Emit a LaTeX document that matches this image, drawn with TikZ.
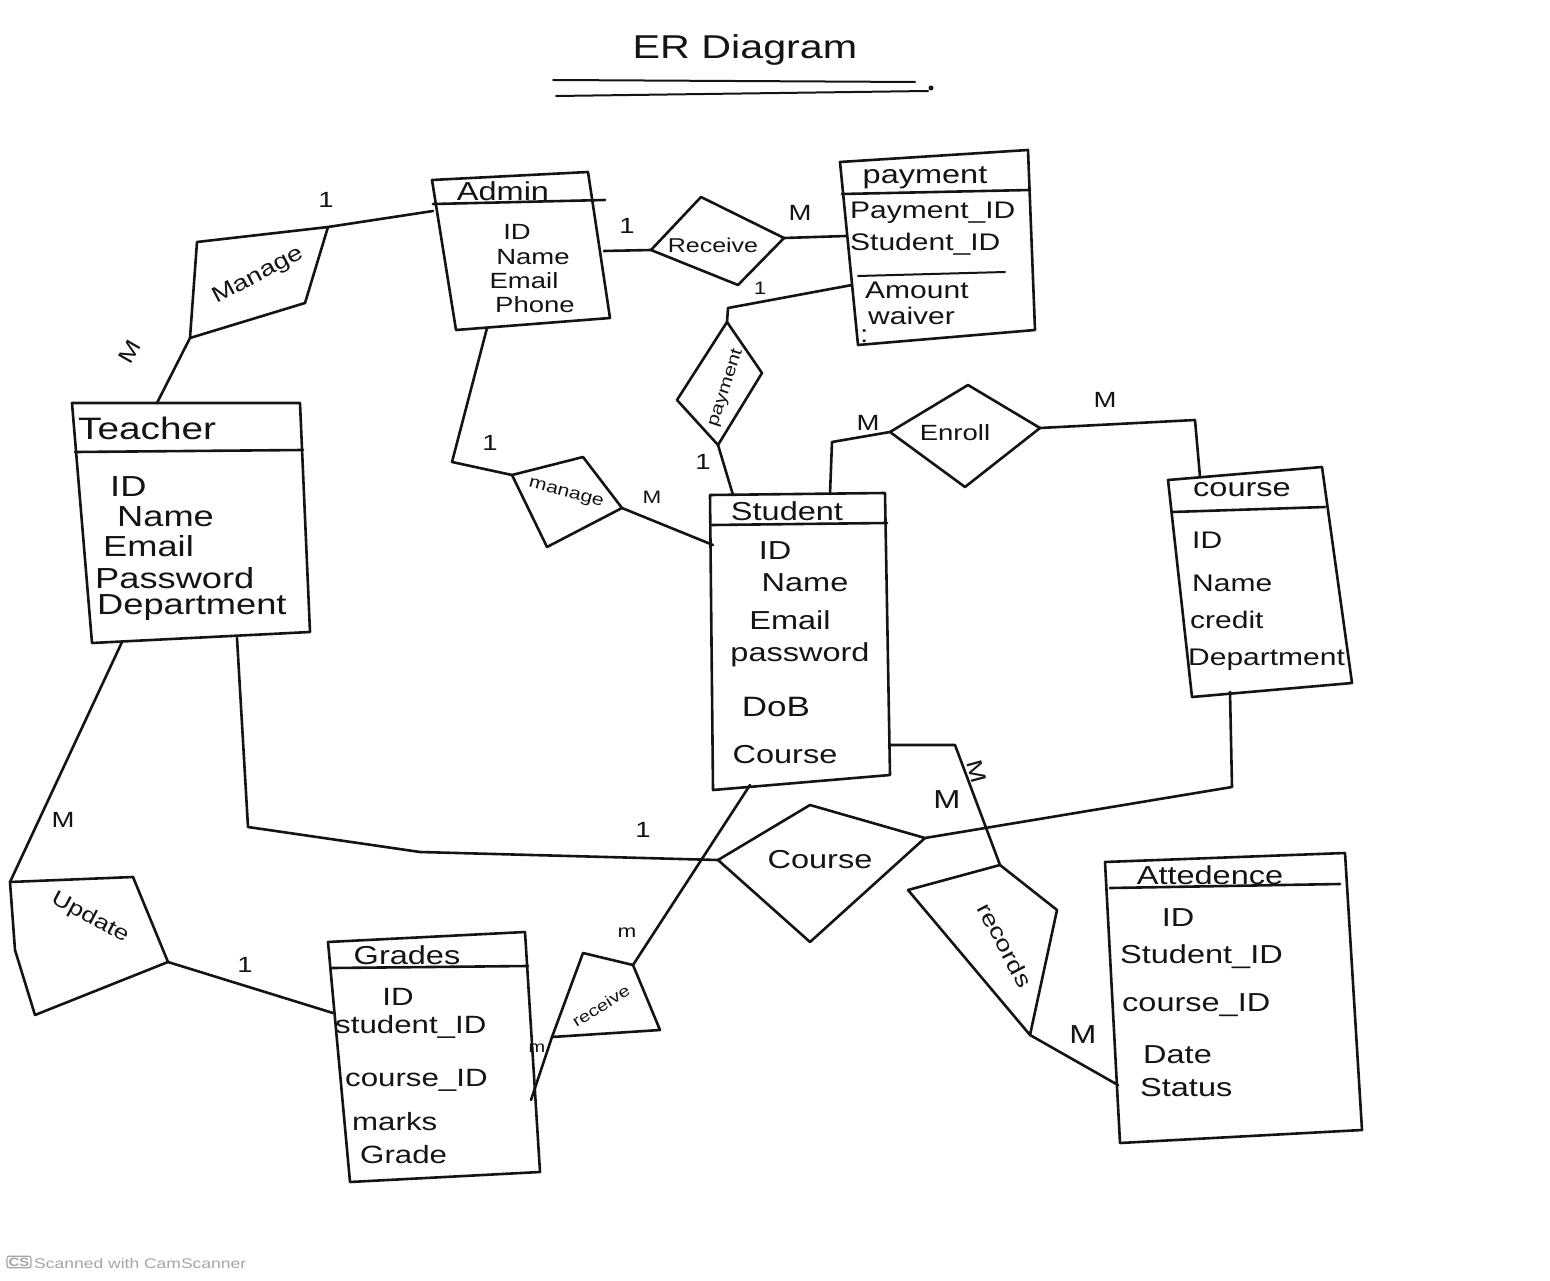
\documentclass[tikz,border=0pt]{standalone}
\usepackage{fontspec}
\setmainfont[FakeStretch=1.25]{Liberation Sans}
\definecolor{ink}{RGB}{20,20,20}
\definecolor{wm}{RGB}{165,165,165}
\tikzset{
  ln/.style={draw=ink, line width=2.6pt, line join=round, line cap=round},
  thin/.style={draw=ink, line width=2pt, line cap=round},
  attr/.style={text=ink, inner sep=0pt, font=\fontsize{24}{26}\selectfont},
  hdr/.style={text=ink, inner sep=0pt, font=\fontsize{26}{28}\selectfont},
  card/.style={text=ink, inner sep=0pt, font=\fontsize{22}{24}\selectfont},
  reltxt/.style={text=ink, inner sep=0pt, font=\fontsize{20}{22}\selectfont},
}
\begin{document}
\begin{tikzpicture}[x=1pt,y=-1pt]
\path[use as bounding box, fill=white] (0,0) rectangle (1550,1281);

% ---------- title ----------
\node[text=ink, inner sep=0pt, font=\fontsize{33}{36}\selectfont] (title) at (745,50) {ER Diagram};
\coordinate (ul1a) at (553,80); \coordinate (ul1b) at (915,82);
\coordinate (ul2a) at (556,96); \coordinate (ul2b) at (928,91);
\draw[thin] (ul1a) -- (ul1b);
\draw[thin] (ul2a) -- (ul2b);
\fill[ink] (931,88) circle (2.5);

% ---------- Admin ----------
\coordinate (adm1) at (432,180); \coordinate (adm2) at (588,172);
\coordinate (adm3) at (610,318); \coordinate (adm4) at (456,330);
\draw[ln] (adm1) -- (adm2) -- (adm3) -- (adm4) -- cycle;
\coordinate (admh1) at (433,204); \coordinate (admh2) at (605,200);
\draw[ln] (admh1) -- (admh2);
\node[hdr] (admT) at (503,191) {Admin};
\node[attr, font=\fontsize{22}{24}\selectfont] (admA1) at (517,232) {ID};
\node[attr, font=\fontsize{22}{24}\selectfont] (admA2) at (533,257) {Name};
\node[attr, font=\fontsize{22}{24}\selectfont] (admA3) at (524,281) {Email};
\node[attr, font=\fontsize{22}{24}\selectfont] (admA4) at (535,305) {Phone};
\coordinate (admL) at (433,211);
\coordinate (admR) at (604,251);
\coordinate (admB) at (487,328);

% ---------- payment ----------
\coordinate (pay1) at (840,162); \coordinate (pay2) at (1028,150);
\coordinate (pay3) at (1035,330); \coordinate (pay4) at (858,345);
\draw[ln] (pay1) -- (pay2) -- (pay3) -- (pay4) -- cycle;
\coordinate (payh1) at (842,194); \coordinate (payh2) at (1030,190);
\draw[ln] (payh1) -- (payh2);
\coordinate (pays1) at (858,276); \coordinate (pays2) at (1005,272);
\draw[thin] (pays1) -- (pays2);
\node[hdr] (payT) at (925,178) {payment};
\node[attr, anchor=west] (payA1) at (850,213) {Payment\_ID};
\node[attr, anchor=west] (payA2) at (850,244) {Student\_ID};
\node[attr, anchor=west] (payA3) at (865,290) {Amount};
\node[attr, anchor=west] (payA4) at (868,316) {waiver};
\node[attr, anchor=west] (payA5) at (860,336) {:};
\coordinate (payL1) at (846,236);
\coordinate (payL2) at (852,285);

% ---------- Receive (top) ----------
\coordinate (rcvL) at (651,250); \coordinate (rcvT) at (701,197);
\coordinate (rcvR) at (784,238); \coordinate (rcvB) at (738,285);
\draw[ln] (rcvL) -- (rcvT) -- (rcvR) -- (rcvB) -- cycle;
\node[reltxt] (rcvX) at (713,245) {Receive};
\draw[ln] (admR) -- (rcvL);
\draw[ln] (rcvR) -- (payL1);
\node[card] (c1) at (627,226) {1};
\node[card] (c2) at (800,213) {M};
\node[card, font=\fontsize{18}{20}\selectfont] (c3) at (760,288) {1};

% ---------- payment relationship ----------
\coordinate (pdT) at (727,322); \coordinate (pdR) at (762,373);
\coordinate (pdB) at (718,445); \coordinate (pdL) at (677,400);
\draw[ln] (pdT) -- (pdR) -- (pdB) -- (pdL) -- cycle;
\node[reltxt, rotate=72, font=\fontsize{17}{19}\selectfont] (pdX) at (726,388) {payment};
\coordinate (pdK) at (728,308);
\draw[ln] (pdT) -- (pdK) -- (payL2);

% ---------- Manage (top left) ----------
\coordinate (mng1) at (197,242); \coordinate (mng2) at (328,227);
\coordinate (mng3) at (305,303); \coordinate (mng4) at (190,338);
\draw[ln] (mng1) -- (mng2) -- (mng3) -- (mng4) -- cycle;
\node[reltxt, rotate=28, font=\fontsize{22}{24}\selectfont] (mngX) at (258,276) {Manage};
\draw[ln] (mng2) -- (admL);
\node[card] (c4) at (326,200) {1};

% ---------- Teacher ----------
\coordinate (tch1) at (72,403); \coordinate (tch2) at (300,403);
\coordinate (tch3) at (310,632); \coordinate (tch4) at (92,643);
\draw[ln] (tch1) -- (tch2) -- (tch3) -- (tch4) -- cycle;
\coordinate (tchh1) at (75,452); \coordinate (tchh2) at (303,450);
\draw[ln] (tchh1) -- (tchh2);
\node[hdr, font=\fontsize{31}{33}\selectfont, anchor=west] (tchT) at (78,428) {Teacher};
\node[attr, font=\fontsize{29}{31}\selectfont, anchor=west] (tchA1) at (110,487) {ID};
\node[attr, font=\fontsize{29}{31}\selectfont, anchor=west] (tchA2) at (117,517) {Name};
\node[attr, font=\fontsize{29}{31}\selectfont, anchor=west] (tchA3) at (103,546) {Email};
\node[attr, font=\fontsize{29}{31}\selectfont, anchor=west] (tchA4) at (95,578) {Password};
\node[attr, font=\fontsize{29}{31}\selectfont, anchor=west] (tchA5) at (97,608) {Department};
\coordinate (tchT0) at (157,403);
\coordinate (tchB1) at (122,642);
\coordinate (tchB2) at (237,638);
\draw[ln] (mng4) -- (tchT0);
\node[card, rotate=60] (c5) at (130,352) {M};

% ---------- manage (middle) ----------
\coordinate (mg1) at (512,475); \coordinate (mg2) at (583,457);
\coordinate (mg3) at (622,508); \coordinate (mg4) at (547,547);
\draw[ln] (mg1) -- (mg2) -- (mg3) -- (mg4) -- cycle;
\node[reltxt, rotate=-15, font=\fontsize{17}{19}\selectfont] (mgX) at (566,494) {manage};
\coordinate (mgK) at (452,462);
\draw[ln] (admB) -- (mgK) -- (mg1);
\node[card] (c6) at (490,443) {1};

% ---------- Student ----------
\coordinate (stu1) at (710,495); \coordinate (stu2) at (885,493);
\coordinate (stu3) at (890,775); \coordinate (stu4) at (713,790);
\draw[ln] (stu1) -- (stu2) -- (stu3) -- (stu4) -- cycle;
\coordinate (stuh1) at (712,525); \coordinate (stuh2) at (887,523);
\draw[ln] (stuh1) -- (stuh2);
\node[hdr] (stuT) at (787,511) {Student};
\node[attr, font=\fontsize{26}{28}\selectfont] (stuA1) at (775,551) {ID};
\node[attr, font=\fontsize{26}{28}\selectfont] (stuA2) at (805,583) {Name};
\node[attr, font=\fontsize{26}{28}\selectfont] (stuA3) at (790,620) {Email};
\node[attr, font=\fontsize{26}{28}\selectfont] (stuA4) at (800,655) {password};
\node[attr, font=\fontsize{28}{30}\selectfont] (stuA5) at (776,707) {DoB};
\node[attr, font=\fontsize{26}{28}\selectfont] (stuA6) at (785,755) {Course};
\coordinate (stuL) at (713,545);
\coordinate (stuT1) at (733,495);
\coordinate (stuT2) at (830,494);
\coordinate (stuB) at (750,785);
\coordinate (stuR) at (889,745);
\draw[ln] (mg3) -- (stuL);
\node[card, font=\fontsize{18}{20}\selectfont] (c7) at (652,497) {M};
\draw[ln] (pdB) -- (stuT1);
\node[card] (c8) at (703,462) {1};

% ---------- Enroll ----------
\coordinate (enrL) at (890,432); \coordinate (enrT) at (968,385);
\coordinate (enrR) at (1040,428); \coordinate (enrB) at (965,487);
\draw[ln] (enrL) -- (enrT) -- (enrR) -- (enrB) -- cycle;
\node[reltxt, font=\fontsize{22}{24}\selectfont] (enrX) at (955,433) {Enroll};
\coordinate (enrK1) at (832,442);
\coordinate (enrK2) at (1195,420);
\draw[ln] (stuT2) -- (enrK1) -- (enrL);
\node[card] (c9) at (868,423) {M};

% ---------- course ----------
\coordinate (crs1) at (1168,480); \coordinate (crs2) at (1322,467);
\coordinate (crs3) at (1352,683); \coordinate (crs4) at (1192,697);
\draw[ln] (crs1) -- (crs2) -- (crs3) -- (crs4) -- cycle;
\coordinate (crsh1) at (1172,512); \coordinate (crsh2) at (1325,507);
\draw[ln] (crsh1) -- (crsh2);
\node[hdr] (crsT) at (1242,490) {course};
\node[attr, anchor=west] (crsA1) at (1192,540) {ID};
\node[attr, anchor=west] (crsA2) at (1192,583) {Name};
\node[attr, anchor=west] (crsA3) at (1190,620) {credit};
\node[attr, anchor=west] (crsA4) at (1188,660) {Department};
\coordinate (crsT0) at (1200,477);
\coordinate (crsB) at (1230,692);
\draw[ln] (enrR) -- (enrK2) -- (crsT0);
\node[card] (c10) at (1105,400) {M};

% ---------- Course (relationship) ----------
\coordinate (cdL) at (718,860); \coordinate (cdT) at (810,805);
\coordinate (cdR) at (925,838); \coordinate (cdB) at (810,942);
\draw[ln] (cdL) -- (cdT) -- (cdR) -- (cdB) -- cycle;
\node[reltxt, font=\fontsize{26}{28}\selectfont] (cdX) at (820,860) {Course};
\coordinate (cdK1) at (248,827);
\coordinate (cdK2) at (420,852);
\coordinate (cdK3) at (1232,787);
\draw[ln] (tchB2) -- (cdK1) -- (cdK2) -- (cdL);
\node[card] (c11) at (643,830) {1};
\draw[ln] (cdR) -- (cdK3) -- (crsB);

% ---------- records ----------
\coordinate (rc1) at (908,890); \coordinate (rc2) at (1000,865);
\coordinate (rc3) at (1057,910); \coordinate (rc4) at (1030,1035);
\draw[ln] (rc1) -- (rc2) -- (rc3) -- (rc4) -- cycle;
\node[reltxt, rotate=-62, font=\fontsize{22}{24}\selectfont] (rcX) at (1005,945) {records};
\coordinate (rcK) at (955,745);
\draw[ln] (stuR) -- (rcK) -- (rc2);
\node[card, rotate=-75] (c12) at (977,772) {M};
\node[card, font=\fontsize{26}{28}\selectfont] (c13) at (947,800) {M};

% ---------- Attedence ----------
\coordinate (att1) at (1105,862); \coordinate (att2) at (1345,853);
\coordinate (att3) at (1362,1130); \coordinate (att4) at (1120,1143);
\draw[ln] (att1) -- (att2) -- (att3) -- (att4) -- cycle;
\coordinate (atth1) at (1110,888); \coordinate (atth2) at (1340,884);
\draw[ln] (atth1) -- (atth2);
\node[hdr] (attT) at (1210,875) {Attedence};
\node[attr, font=\fontsize{26}{28}\selectfont] (attA1) at (1178,918) {ID};
\node[attr, font=\fontsize{26}{28}\selectfont, anchor=west] (attA2) at (1120,957) {Student\_ID};
\node[attr, font=\fontsize{26}{28}\selectfont, anchor=west] (attA3) at (1122,1005) {course\_ID};
\node[attr, font=\fontsize{26}{28}\selectfont, anchor=west] (attA4) at (1143,1055) {Date};
\node[attr, font=\fontsize{26}{28}\selectfont, anchor=west] (attA5) at (1140,1088) {Status};
\coordinate (attL) at (1118,1085);
\draw[ln] (rc4) -- (attL);
\node[card, font=\fontsize{26}{28}\selectfont] (c14) at (1083,1035) {M};

% ---------- Update ----------
\coordinate (up1) at (10,882); \coordinate (up2) at (133,877);
\coordinate (up3) at (168,962); \coordinate (up4) at (35,1015);
\coordinate (up5) at (15,950);
\draw[ln] (up1) -- (up2) -- (up3) -- (up4) -- (up5) -- cycle;
\node[reltxt, rotate=-28, font=\fontsize{21}{23}\selectfont] (upX) at (90,918) {Update};
\draw[ln] (tchB1) -- (up1);
\node[card] (c15) at (63,820) {M};

% ---------- Grades ----------
\coordinate (grd1) at (328,942); \coordinate (grd2) at (525,932);
\coordinate (grd3) at (540,1172); \coordinate (grd4) at (350,1182);
\draw[ln] (grd1) -- (grd2) -- (grd3) -- (grd4) -- cycle;
\coordinate (grdh1) at (332,968); \coordinate (grdh2) at (528,966);
\draw[ln] (grdh1) -- (grdh2);
\node[hdr] (grdT) at (407,955) {Grades};
\node[attr, font=\fontsize{25}{27}\selectfont] (grdA1) at (398,997) {ID};
\node[attr, font=\fontsize{25}{27}\selectfont, anchor=west] (grdA2) at (335,1027) {student\_ID};
\node[attr, font=\fontsize{25}{27}\selectfont, anchor=west] (grdA3) at (345,1080) {course\_ID};
\node[attr, font=\fontsize{25}{27}\selectfont, anchor=west] (grdA4) at (352,1122) {marks};
\node[attr, font=\fontsize{25}{27}\selectfont, anchor=west] (grdA5) at (360,1155) {Grade};
\coordinate (grdL) at (333,1013);
\coordinate (grdR) at (531,1100);
\draw[ln] (up3) -- (grdL);
\node[card] (c16) at (245,965) {1};

% ---------- receive (bottom) ----------
\coordinate (rv1) at (583,953); \coordinate (rv2) at (633,965);
\coordinate (rv3) at (660,1030); \coordinate (rv4) at (552,1037);
\draw[ln] (rv1) -- (rv2) -- (rv3) -- (rv4) -- cycle;
\node[reltxt, rotate=32, font=\fontsize{16}{18}\selectfont] (rvX) at (601,1006) {receive};
\draw[ln] (rv2) -- (stuB);
\node[card, font=\fontsize{18}{20}\selectfont] (c17) at (627,933) {m};
\draw[ln] (rv4) -- (grdR);
\node[card, font=\fontsize{16}{18}\selectfont] (c18) at (537,1048) {m};

% ---------- watermark ----------
\node[draw=wm, fill=white, line width=1.2pt, rounded corners=2pt, inner sep=1.5pt, text=wm, font=\fontsize{12}{13}\selectfont\bfseries] (wmIcon) at (19,1262) {CS};
\node[anchor=west, inner sep=0pt, text=wm, font=\fontsize{14}{16}\selectfont] (wmText) at (34,1263) {Scanned with CamScanner};
\end{tikzpicture}
\end{document}
